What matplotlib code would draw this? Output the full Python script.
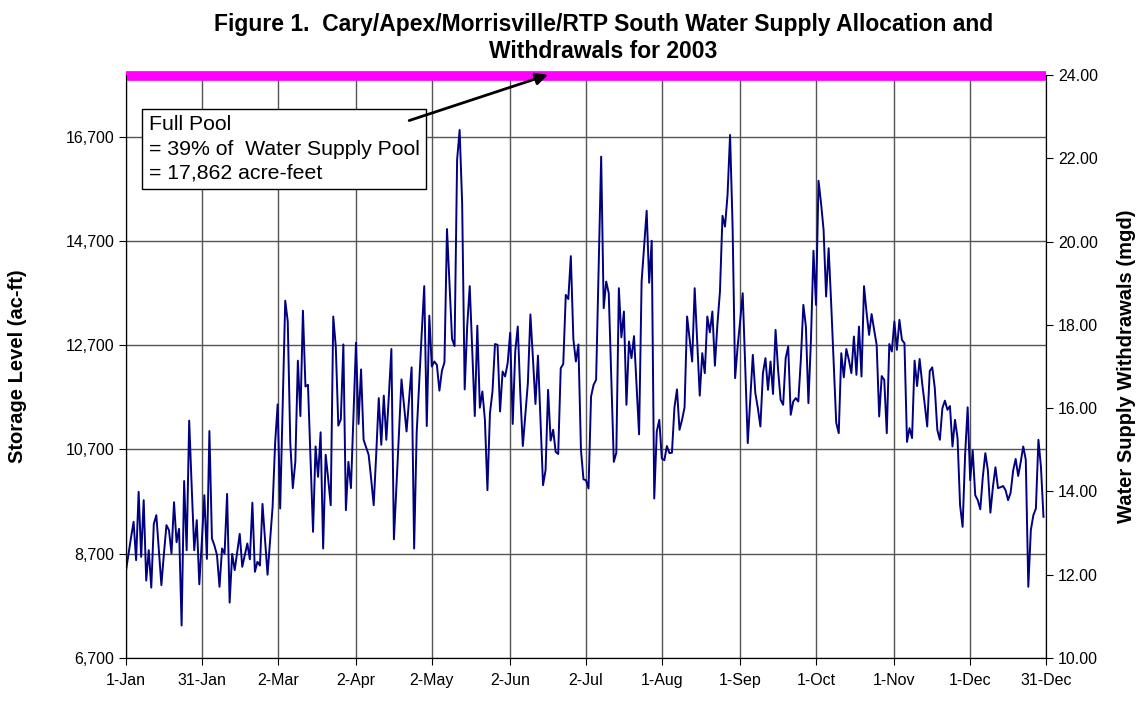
import numpy as np
import pandas as pd
import matplotlib
matplotlib.use("Agg")
import matplotlib.pyplot as plt
import matplotlib.ticker as mticker

plt.rcParams['font.family'] = ['Liberation Sans', 'DejaVu Sans']

# daily withdrawals (mgd), 1-Jan .. 30-Dec 2003
withdrawals = [
    12.10, 12.50, 12.90, 13.27, 12.35, 13.99, 12.43, 13.79, 11.86, 12.59,
    11.69, 13.22, 13.43, 12.60, 11.75, 12.50, 13.19, 13.07, 12.51, 13.74,
    12.78, 13.10, 10.78, 14.25, 12.59, 15.70, 14.10, 12.59, 13.31, 11.77,
    12.80, 13.91, 12.38, 15.45, 12.87, 12.70, 12.47, 11.71, 12.63, 12.51,
    13.94, 11.33, 12.50, 12.11, 12.55, 12.98, 12.19, 12.47, 12.75, 12.37,
    13.73, 12.07, 12.31, 12.22, 13.70, 12.85, 12.00, 12.80, 13.63, 15.16,
    16.09, 13.59, 16.10, 18.58, 18.08, 15.16, 14.08, 14.71, 17.14, 15.81,
    18.34, 16.52, 16.56, 14.80, 13.03, 15.08, 14.35, 15.42, 12.63, 14.88,
    14.30, 13.67, 18.20, 17.48, 15.58, 15.73, 17.53, 13.55, 14.71, 14.08,
    15.80, 17.57, 15.62, 16.93, 15.24, 15.06, 14.88, 14.30, 13.67, 14.90,
    16.24, 15.12, 16.30, 15.24, 16.30, 17.42, 12.85, 14.10, 15.40, 16.69,
    16.06, 15.44, 16.20, 16.98, 12.63, 15.40, 16.60, 17.80, 18.93, 15.57,
    18.22, 17.00, 17.12, 17.04, 16.42, 16.90, 17.10, 20.30, 19.00, 17.66,
    17.49, 21.96, 22.68, 20.92, 16.45, 17.97, 18.93, 17.40, 15.81, 17.98,
    16.01, 16.40, 15.72, 14.03, 15.88, 16.40, 17.54, 17.52, 15.92, 16.88,
    16.76, 17.08, 17.81, 15.62, 17.36, 17.96, 16.36, 15.09, 15.85, 16.60,
    18.25, 17.20, 16.10, 17.26, 15.70, 14.15, 14.51, 16.44, 15.22, 15.48,
    14.95, 14.90, 16.96, 17.06, 18.72, 18.62, 19.65, 17.66, 17.12, 17.53,
    15.00, 14.29, 14.27, 14.07, 16.28, 16.56, 16.68, 19.40, 22.04, 18.40,
    19.04, 18.76, 16.70, 14.71, 14.93, 18.88, 17.70, 18.32, 16.08, 17.60,
    17.20, 17.73, 16.55, 15.37, 19.04, 19.90, 20.74, 19.01, 20.02, 13.83,
    15.44, 15.72, 14.79, 14.75, 15.09, 14.92, 14.93, 16.02, 16.45, 15.48,
    15.72, 16.02, 18.20, 17.66, 17.12, 18.88, 17.60, 16.30, 17.32, 16.84,
    18.20, 17.82, 18.32, 17.02, 18.02, 18.80, 20.62, 20.36, 21.12, 22.56,
    20.36, 16.72, 17.48, 18.10, 18.76, 17.00, 15.16, 16.20, 17.28, 16.36,
    16.00, 15.56, 16.84, 17.20, 16.44, 17.12, 16.34, 17.88, 16.92, 16.20,
    16.08, 17.20, 17.48, 15.84, 16.16, 16.24, 16.16, 17.16, 18.48, 17.96,
    16.12, 17.64, 19.78, 18.48, 21.46, 20.92, 20.28, 18.68, 19.84, 18.52,
    17.10, 15.65, 15.40, 17.32, 16.74, 17.42, 17.16, 16.84, 17.72, 16.80,
    17.96, 16.76, 18.93, 18.30, 17.76, 18.26, 17.88, 17.52, 15.80, 16.77,
    16.68, 15.40, 17.54, 17.36, 18.08, 17.40, 18.12, 17.64, 17.56, 15.19,
    15.52, 15.28, 17.14, 16.53, 17.18, 16.60, 16.10, 15.56, 16.89, 16.98,
    16.48, 15.48, 15.24, 16.00, 16.18, 15.96, 16.05, 15.08, 15.72, 15.28,
    13.67, 13.15, 14.88, 16.02, 14.27, 14.98, 13.91, 13.79, 13.57, 14.35,
    14.92, 14.51, 13.49, 14.11, 14.58, 14.08, 14.10, 14.13, 14.03, 13.79,
    13.97, 14.50, 14.78, 14.37, 14.71, 15.08, 14.76, 11.71, 13.07, 13.43,
    13.59, 15.24, 14.59, 13.39,
]
full_pool = 17862  # acre-feet

dates = pd.date_range("2003-01-01", periods=len(withdrawals), freq="D")
pool_dates = pd.date_range("2003-01-01", "2003-12-31", freq="D")
pool = [full_pool] * len(pool_dates)

tick_dates = pd.to_datetime(["2003-01-01", "2003-01-31", "2003-03-02", "2003-04-02",
                             "2003-05-02", "2003-06-02", "2003-07-02", "2003-08-01",
                             "2003-09-01", "2003-10-01", "2003-11-01", "2003-12-01",
                             "2003-12-31"])
tick_labels = ["1-Jan", "31-Jan", "2-Mar", "2-Apr", "2-May", "2-Jun", "2-Jul",
               "1-Aug", "1-Sep", "1-Oct", "1-Nov", "1-Dec", "31-Dec"]
storage_ticks = [6700, 8700, 10700, 12700, 14700, 16700]
mgd_ticks = [10, 12, 14, 16, 18, 20, 22, 24]

fig = plt.figure(figsize=(11.38, 7.04), dpi=100)
ax = fig.add_axes([126 / 1138, 46 / 704, 920 / 1138, 583 / 704])
ax2 = ax.twinx()

# storage (left axis)
ax.plot(pool_dates, pool, color="#FF00FF", lw=7, solid_capstyle="butt", clip_on=False, zorder=5)
ax.set_ylim(6700, 17880)
ax.set_yticks(storage_ticks)
ax.yaxis.set_major_formatter(mticker.FuncFormatter(lambda v, p: f"{int(v):,}"))
ax.set_xlim(tick_dates[0], tick_dates[-1])
ax.set_xticks(tick_dates)
ax.set_xticklabels(tick_labels)
ax.grid(True, color="#555555", lw=1)
ax.set_axisbelow(True)
ax.set_ylabel("Storage Level (ac-ft)", fontsize=14.5, fontweight="bold")
ax.yaxis.set_label_coords(-0.108, 0.5)

# withdrawals (right axis)
ax2.plot(dates, withdrawals, color="#000080", lw=1.4)
ax2.set_ylim(10, 24)
ax2.set_yticks(mgd_ticks)
ax2.yaxis.set_major_formatter(mticker.FormatStrFormatter("%.2f"))
ax2.set_ylabel("Water Supply Withdrawals (mgd)", fontsize=14.5, fontweight="bold")
ax2.yaxis.set_label_coords(1.077, 0.5)

for a in (ax, ax2):
    a.tick_params(labelsize=11.5, length=5, color="black")
    a.spines["top"].set_visible(False)
ax.tick_params(axis="x", pad=6)

ax.text(pd.Timestamp("2003-01-10"), 17110,
        "Full Pool\n= 39% of  Water Supply Pool\n= 17,862 acre-feet",
        fontsize=15.3, va="top", ha="left", linespacing=1.36, zorder=7,
        bbox=dict(boxstyle="square,pad=0.3", fc="white", ec="black", lw=1))
ax.annotate("", xy=(pd.Timestamp("2003-06-18"), 17900), xytext=(pd.Timestamp("2003-04-22"), 16990),
            arrowprops=dict(arrowstyle="-|>", color="black", lw=2, mutation_scale=18),
            annotation_clip=False, zorder=8)

fig.suptitle("Figure 1.  Cary/Apex/Morrisville/RTP South Water Supply Allocation and\nWithdrawals for 2003",
             fontsize=16.5, fontweight="bold", y=0.982, x=0.53, linespacing=1.25)

fig.savefig("out.png", dpi=100)
